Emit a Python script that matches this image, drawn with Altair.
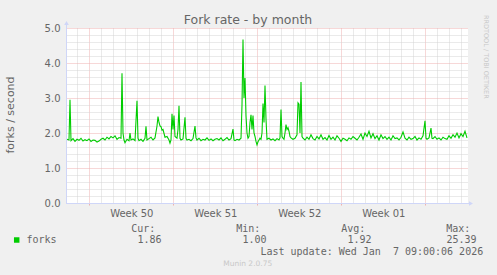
import altair as alt
import pandas as pd

# time in 2-hour periods since the start of the graph
periods = [1, 3, 4, 5, 7, 9, 11, 13, 15, 17, 19, 21, 23, 25, 27, 29, 31, 33, 35, 37,
           39, 41, 43, 45, 47, 49, 51, 53, 55, 56, 57, 58, 59, 61, 63, 64, 65, 67, 69, 71,
           72, 73, 75, 77, 79, 80, 81, 83, 85, 87, 89, 91, 92, 93, 94, 95, 96, 97, 99, 101,
           103, 104, 105, 106, 107, 108, 109, 111, 112, 113, 114, 115, 117, 119, 120, 121, 123, 125, 127, 129,
           130, 131, 133, 135, 137, 139, 141, 143, 145, 147, 149, 151, 153, 155, 157, 159, 161, 163, 165, 167,
           168, 169, 171, 173, 175, 176, 177, 178, 179, 180, 181, 182, 183, 184, 185, 186, 187, 188, 189, 190,
           191, 192, 193, 194, 195, 196, 197, 198, 199, 200, 201, 203, 205, 207, 209, 211, 213, 214, 215, 216,
           217, 218, 219, 220, 221, 222, 223, 224, 225, 227, 229, 231, 232, 233, 234, 235, 236, 237, 239, 241,
           243, 245, 247, 249, 251, 253, 255, 257, 259, 261, 263, 265, 267, 269, 271, 273, 275, 277, 279, 281,
           283, 285, 287, 289, 291, 293, 295, 297, 299, 301, 303, 305, 307, 309, 311, 313, 315, 317, 319, 321,
           323, 325, 327, 329, 331, 333, 335, 337, 339, 341, 343, 345, 347, 349, 351, 353, 355, 357, 359, 360,
           361, 363, 365, 366, 367, 369, 371, 373, 375, 377, 379, 381, 383, 385, 387, 389, 391, 393, 395, 397,
           399, 401]
forks = [1.82, 1.80, 2.95, 1.78, 1.84, 1.76, 1.82, 1.79, 1.85, 1.77, 1.81, 1.78, 1.83, 1.76, 1.80, 1.79, 1.74, 1.77, 1.82, 1.85,
         1.80, 1.88, 1.83, 1.90, 1.86, 1.92, 1.82, 1.87, 1.85, 3.71, 2.00, 1.80, 1.72, 1.82, 1.78, 2.00, 1.80, 1.83, 1.78, 2.92,
         1.85, 1.78, 1.82, 1.76, 1.85, 2.19, 1.80, 1.84, 1.88, 1.80, 1.86, 2.20, 2.47, 2.30, 2.20, 2.18, 2.08, 2.10, 1.88, 1.90,
         1.80, 1.71, 1.80, 2.55, 2.10, 2.50, 1.90, 1.85, 2.10, 2.78, 1.85, 1.80, 1.83, 2.45, 1.85, 1.80, 1.82, 1.78, 1.84, 2.20,
         1.86, 1.80, 1.85, 1.78, 1.82, 1.80, 1.86, 1.79, 1.83, 1.78, 1.82, 1.84, 1.80, 1.86, 1.78, 1.82, 1.87, 1.80, 1.84, 2.11,
         1.80, 1.78, 1.82, 1.80, 1.85, 2.80, 4.67, 3.00, 3.57, 2.50, 2.00, 1.85, 1.90, 2.30, 2.52, 2.10, 2.50, 2.00, 1.90, 1.76,
         1.66, 1.75, 1.80, 1.85, 1.82, 2.00, 2.84, 2.30, 3.36, 2.40, 1.82, 1.85, 1.80, 1.83, 1.78, 1.84, 1.80, 1.86, 2.67, 1.90,
         1.85, 1.82, 2.00, 2.24, 2.10, 2.15, 2.05, 1.90, 1.86, 1.82, 1.85, 1.95, 2.86, 2.82, 2.00, 3.46, 1.90, 1.85, 1.80, 1.88,
         1.82, 1.95, 1.84, 1.80, 1.90, 1.83, 1.95, 1.82, 1.87, 1.80, 1.93, 1.82, 1.88, 1.80, 1.92, 1.85, 1.76, 1.85, 1.82, 1.78,
         1.86, 1.82, 1.90, 1.85, 1.80, 1.88, 1.97, 1.82, 2.00, 1.90, 2.05, 1.86, 1.98, 1.84, 1.92, 1.80, 1.95, 1.84, 1.90, 1.82,
         1.88, 1.80, 1.92, 1.84, 1.86, 1.80, 1.88, 2.03, 1.85, 1.80, 1.88, 1.82, 1.84, 1.90, 1.80, 1.86, 1.82, 1.92, 2.35, 1.85,
         1.82, 1.86, 2.14, 1.85, 1.84, 1.90, 1.82, 1.86, 1.80, 1.88, 1.84, 1.82, 1.92, 1.85, 1.95, 1.88, 2.00, 1.86, 1.98, 1.90,
         2.05, 1.86]

y_ticks = [round(i * 0.2, 1) for i in range(26)]
week_starts = [23.3, 107.3, 191.3, 275.3, 359.3]
week_mids = [65.3, 149.3, 233.3, 317.3]
week_labels = ["Week 50", "Week 51", "Week 52", "Week 01"]
day_lines = [round(11.3 + 12 * k, 1) for k in range(33)]

title_text = "Fork rate - by month"
y_title = "forks / second"
series_name = "forks"
stat_names = ["Cur:", "Min:", "Avg:", "Max:"]
stat_values = ["1.86", "1.00", "1.92", "25.39"]
# the double space before the day is kept with a no-break space (SVG collapses runs of spaces)
last_update = "Last update: Wed Jan\u00a0 7 09:00:06 2026"
footer = "Munin 2.0.75"
watermark = "RRDTOOL / TOBI OETIKER"

FONT_COLOR = "#666666"
AXIS_COLOR = "#CFD6F8"
GRID_MINOR = "#d4d4d4"
GRID_MAJOR = "#eeb0b0"
GREEN = "#00CC00"

df = pd.DataFrame({"period": periods, "forks": forks})

week_test = " || ".join("datum.value == %s" % w for w in week_starts)
mid_test = " || ".join("datum.value == %s" % m for m in week_mids)
label_expr = " : ".join("datum.value == %s ? '%s'" % (m, l) for m, l in zip(week_mids, week_labels)) + " : ''"

x_axis = alt.Axis(
    values=sorted(day_lines + week_mids),
    grid=True,
    gridDash=[1, 1],
    gridColor={"condition": {"test": week_test, "value": GRID_MAJOR}, "value": GRID_MINOR},
    gridOpacity={"condition": {"test": mid_test, "value": 0}, "value": 1},
    ticks=True,
    tickSize=2,
    tickColor={"condition": {"test": week_test, "value": GRID_MAJOR}, "value": "transparent"},
    labelExpr=label_expr,
    labelOverlap=False,
    labelFlush=False,
    labelBound=False,
    labelFont="DejaVu Sans",
    labelFontSize=10,
    labelColor=FONT_COLOR,
    labelBaseline="alphabetic",
    labelPadding=11,
    domainColor=AXIS_COLOR,
    title=None,
)

y_axis = alt.Axis(
    values=y_ticks,
    grid=True,
    gridDash=[1, 1],
    gridColor={"condition": {"test": "abs(datum.value - round(datum.value)) < 0.01", "value": GRID_MAJOR},
               "value": GRID_MINOR},
    ticks=False,
    labelExpr="abs(datum.value - round(datum.value)) < 0.01 ? format(datum.value, '.1f') : ''",
    labelOverlap=False,
    labelFont="DejaVu Sans",
    labelFontSize=10,
    labelColor=FONT_COLOR,
    labelPadding=6,
    labelBaseline="middle",
    domainColor=AXIS_COLOR,
    title=None,
)

line = alt.Chart(df).mark_line(color=GREEN, strokeWidth=1.1, clip=True).encode(
    x=alt.X("period:Q", scale=alt.Scale(domain=[0, 402], nice=False, zero=False), axis=x_axis),
    y=alt.Y("forks:Q", scale=alt.Scale(domain=[0, 5], nice=False), axis=y_axis),
)

one = pd.DataFrame({"k": [0]})

def text(s, x, y, size=10, font="DejaVu Sans", color=FONT_COLOR, align="left", angle=0, baseline="alphabetic"):
    return alt.Chart(pd.DataFrame({"t": [s]})).mark_text(
        font=font, fontSize=size, color=color, align=align, baseline=baseline, angle=angle
    ).encode(text="t:N", x=alt.value(x), y=alt.value(y))

layers = [line]

# axis extension lines and arrows
layers.append(alt.Chart(one).mark_rule(color=AXIS_COLOR, strokeWidth=1).encode(
    x=alt.value(0.5), y=alt.value(-4), y2=alt.value(175)))
layers.append(alt.Chart(one).mark_rule(color=AXIS_COLOR, strokeWidth=1).encode(
    x=alt.value(0), x2=alt.value(404), y=alt.value(175.5)))
layers.append(alt.Chart(one).mark_point(shape="triangle-up", filled=True, color=AXIS_COLOR, size=22, opacity=1).encode(
    x=alt.value(0.5), y=alt.value(-5)))
layers.append(alt.Chart(one).mark_point(shape="triangle-right", filled=True, color=AXIS_COLOR, size=22, opacity=1).encode(
    x=alt.value(405), y=alt.value(175.5)))

layers.append(text(title_text, 182, -4, size=12.5, align="center"))
layers.append(text(y_title, -55, 87, size=11, align="center", angle=270, baseline="middle"))
layers.append(text(watermark, 420, -13, size=6.5, color="#c8c8c8", align="left", angle=90, baseline="middle"))

# legend
layers.append(alt.Chart(one).mark_square(color=GREEN, size=30, opacity=1).encode(
    x=alt.value(-49.3), y=alt.value(212)))
layers.append(text(series_name, -39.5, 215, font="DejaVu Sans Mono"))
for i, (n, v) in enumerate(zip(stat_names, stat_values)):
    hx = 65.2 + 105 * i
    layers.append(text(n, hx, 203.7, font="DejaVu Sans Mono"))
    layers.append(text(v, hx + 30.3, 215, font="DejaVu Sans Mono", align="right"))
layers.append(text(last_update, 417.2, 227, font="DejaVu Sans Mono", align="right"))
layers.append(text(footer, 181.7, 238.3, size=7.5, color="#c8c8c8", align="center"))

chart = alt.layer(*layers).properties(
    width=402,
    height=175,
    padding={"left": 66, "top": 28, "right": 29, "bottom": 72},
    autosize=alt.AutoSizeParams(type="none"),
    background="#F0F0F0",
).configure_view(stroke=None, fill="#FFFFFF")

chart.save("out.html", embed_options={"renderer": "svg", "actions": False})
